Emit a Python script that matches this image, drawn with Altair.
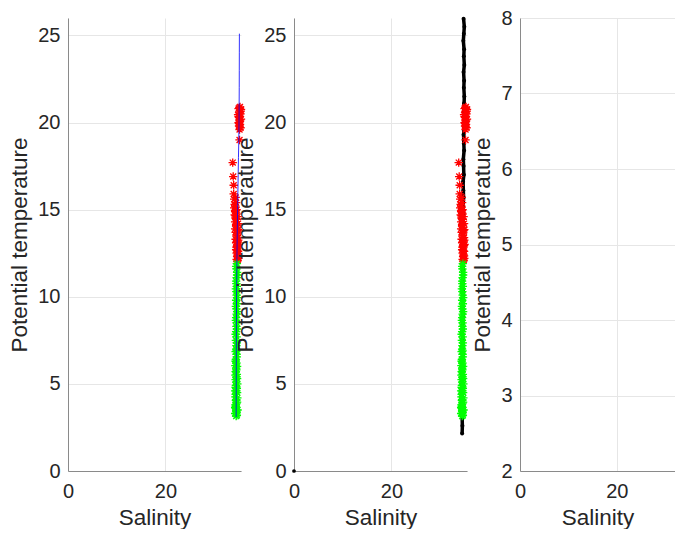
import altair as alt
import pandas as pd

# ---- data ----
# panel 1 blue profile line (salinity, potential temperature)
blue_sal = [35.17, 35.16, 35.15, 35.14, 35.12, 35.10, 35.05, 34.98, 34.92, 34.86, 34.80, 34.75,
            34.70, 34.66, 34.62, 34.59, 34.57, 34.55, 34.54, 34.53, 34.52, 34.51, 34.50]
blue_temp = [25.1, 24.0, 23.0, 22.0, 21.0, 20.2, 19.0, 18.0, 17.0, 16.0, 15.0, 14.0,
             13.0, 12.0, 11.0, 10.0, 9.0, 8.0, 7.0, 6.0, 5.0, 4.0, 3.1]

# panel 2 black profile dots
black_temp = [25.95, 25.5, 25.1, 24.7, 24.2, 23.8, 23.3, 22.9, 22.4, 22.0,
              21.5, 21.1, 20.6, 20.2, 19.7, 19.3, 18.8, 18.4, 17.9, 17.5,
              17.0, 16.6, 16.1, 15.7, 15.2, 14.8, 14.3, 13.9, 13.4, 13.0,
              12.5, 12.1, 11.6, 11.2, 10.7, 10.3, 9.8, 9.4, 8.9, 8.5,
              8.0, 7.6, 7.1, 6.7, 6.2, 5.8, 5.3, 4.9, 4.4, 4.0,
              3.5, 3.1, 2.6, 2.15]
black_sal = [34.80, 34.95, 34.85, 34.75, 34.90, 34.85, 34.95, 34.80, 34.90, 34.85,
             34.95, 34.90, 34.85, 34.95, 34.90, 34.80, 34.85, 34.90, 34.75, 34.80,
             34.85, 34.70, 34.75, 34.80, 34.70, 34.75, 34.65, 34.70, 34.75, 34.65,
             34.70, 34.60, 34.65, 34.70, 34.60, 34.65, 34.60, 34.55, 34.65, 34.60,
             34.55, 34.60, 34.55, 34.60, 34.50, 34.55, 34.60, 34.50, 34.55, 34.50,
             34.55, 34.50, 34.55, 34.50]
zero_sal = [0.0]
zero_temp = [0.0]

# red asterisks (upper water)
red_temp = [20.9, 20.8, 20.75, 20.6, 20.5, 20.45, 20.3, 20.2, 20.1, 20.0,
            19.9, 19.8, 19.7, 19.6, 19.0, 17.7, 16.9, 16.4, 15.9, 15.6,
            15.3, 15.1, 14.9, 14.7, 14.5, 14.3, 14.1, 13.9, 13.7, 13.5,
            13.3, 13.1, 12.9, 12.7, 12.5, 12.3, 12.15, 12.05,
            15.0, 14.6, 14.2, 13.8, 13.4, 13.0, 12.6, 12.2, 14.8, 14.0,
            13.2, 12.4, 15.4, 15.7, 20.85, 20.65, 20.35, 20.15, 19.95, 19.75,
            15.2, 14.95, 14.45, 14.15, 13.85, 13.55, 13.25, 12.95, 12.65, 12.35,
            12.1, 14.65, 13.65, 12.85]
red_sal = [35.3, 35.0, 35.5, 35.2, 35.4, 34.9, 35.1, 35.5, 35.2, 35.0,
           35.3, 35.1, 35.4, 35.2, 35.2, 33.8, 33.9, 34.0, 34.0, 34.1,
           34.2, 34.1, 34.3, 34.2, 34.4, 34.3, 34.5, 34.3, 34.4, 34.6,
           34.4, 34.5, 34.7, 34.5, 34.6, 34.7, 34.6, 34.7,
           34.6, 34.8, 34.9, 34.8, 34.9, 35.0, 34.9, 34.95, 34.5, 34.7,
           34.8, 34.8, 34.5, 34.4, 35.15, 35.45, 35.0, 35.35, 35.1, 35.25,
           34.3, 34.45, 34.65, 34.55, 34.95, 34.65, 34.95, 34.85, 34.75, 34.9,
           34.85, 34.35, 34.7, 34.55]

# green asterisks (deeper water)
green_temp = [11.9, 11.6, 11.4, 11.1, 10.9, 10.6, 10.3, 10.1, 9.8, 9.6,
              9.3, 9.0, 8.8, 8.5, 8.3, 8.0, 7.7, 7.5, 7.2, 7.0,
              6.7, 6.4, 6.2, 5.9, 5.7, 5.4, 5.1, 4.9, 4.6, 4.4,
              4.1, 3.9, 3.7, 3.5, 3.3, 3.15,
              3.3, 3.5, 3.8, 4.2, 4.6, 5.0, 5.5, 6.0,
              11.75, 11.25, 10.75, 10.45, 9.95, 9.45, 9.15, 8.65, 8.15, 7.85,
              7.35, 6.85, 6.55, 6.05, 5.55, 5.25, 4.75, 4.25, 3.95, 3.6,
              3.2, 3.4, 3.65, 4.05, 4.5, 4.8, 5.3, 5.8, 6.3, 6.9]
green_sal = [34.65, 34.55, 34.70, 34.60, 34.50, 34.65, 34.55, 34.60, 34.50, 34.65,
             34.55, 34.60, 34.50, 34.60, 34.55, 34.50, 34.60, 34.45, 34.55, 34.50,
             34.60, 34.45, 34.55, 34.50, 34.40, 34.60, 34.50, 34.45, 34.55, 34.40,
             34.50, 34.60, 34.45, 34.55, 34.50, 34.50,
             34.30, 34.80, 34.35, 34.75, 34.30, 34.75, 34.35, 34.70,
             34.50, 34.70, 34.55, 34.45, 34.70, 34.45, 34.70, 34.45, 34.65, 34.40,
             34.65, 34.40, 34.65, 34.35, 34.65, 34.40, 34.65, 34.35, 34.70, 34.40,
             34.65, 34.55, 34.30, 34.45, 34.70, 34.40, 34.70, 34.55, 34.40, 34.60]

x_ticks = [0, 20]
y_ticks_a = [0, 5, 10, 15, 20, 25]
y_ticks_b = [2, 3, 4, 5, 6, 7, 8]

# ---- tables ----
blue_df = pd.DataFrame({"S": blue_sal, "T": blue_temp, "i": range(len(blue_sal))})
black_df = pd.DataFrame({"S": black_sal, "T": black_temp, "i": range(len(black_sal))})
zero_df = pd.DataFrame({"S": zero_sal, "T": zero_temp})
red_df = pd.DataFrame({"S": red_sal, "T": red_temp})
green_df = pd.DataFrame({"S": green_sal, "T": green_temp})

ASTERISK = "M-1,0L1,0M0,-1L0,1M-0.71,-0.71L0.71,0.71M-0.71,0.71L0.71,-0.71"
W, H = 173, 453


def enc(ydom, yticks, xmax=35.5):
    return dict(
        x=alt.X("S:Q", scale=alt.Scale(domain=[0, xmax], nice=False, zero=False),
                axis=alt.Axis(values=x_ticks, title="Salinity")),
        y=alt.Y("T:Q", scale=alt.Scale(domain=ydom, nice=False, zero=False),
                axis=alt.Axis(values=yticks, title="Potential temperature")),
    )


def stars(df, color, ydom, yticks, clip, xmax=35.5):
    return alt.Chart(df).mark_point(shape=ASTERISK, filled=False, size=70, strokeWidth=1.3,
                                    color=color, opacity=1, clip=clip).encode(**enc(ydom, yticks, xmax))


ya = [0, 26]
p1 = alt.layer(
    stars(red_df, "#ff0000", ya, y_ticks_a, False),
    stars(green_df, "#00ff00", ya, y_ticks_a, False),
    alt.Chart(blue_df).mark_line(color="#0000ff", strokeWidth=1, opacity=0.8).encode(
        order="i:Q", **enc(ya, y_ticks_a)),
).properties(width=W, height=H)

p2 = alt.layer(
    alt.Chart(black_df).mark_line(color="#000000", strokeWidth=3.5).encode(
        order="i:Q", **enc(ya, y_ticks_a)),
    alt.Chart(black_df).mark_circle(color="#000000", size=16, opacity=1).encode(**enc(ya, y_ticks_a)),
    alt.Chart(zero_df).mark_circle(color="#000000", size=14, opacity=1, clip=False).encode(**enc(ya, y_ticks_a)),
    stars(red_df, "#ff0000", ya, y_ticks_a, False),
    stars(green_df, "#00ff00", ya, y_ticks_a, False),
).properties(width=W, height=H)

yb = [2, 8]
X3 = 32.0
p3 = alt.layer(
    stars(green_df, "#00ff00", yb, y_ticks_b, True, X3),
    stars(red_df, "#ff0000", yb, y_ticks_b, True, X3),
).properties(width=155, height=H)

chart = alt.hconcat(p1, p2, p3, spacing=53, bounds="flush").resolve_scale(
    x="independent", y="independent"
).properties(
    padding={"left": 0, "top": 0, "right": 0, "bottom": 0}
).configure_axis(
    labelFont="Liberation Sans", titleFont="Liberation Sans",
    labelFontSize=20, titleFontSize=22.5, titleFontWeight="normal",
    labelColor="#262626", titleColor="#262626",
    domainColor="#8a8a8a", gridColor="#e6e6e6", ticks=False, tickSize=0,
).configure_axisX(
    labelPadding=10, titlePadding=5, labelFlush=False,
).configure_axisY(
    labelPadding=8, titlePadding=6,
).configure_view(stroke=None)

chart.save("out.html", embed_options={"renderer": "svg", "actions": False})
